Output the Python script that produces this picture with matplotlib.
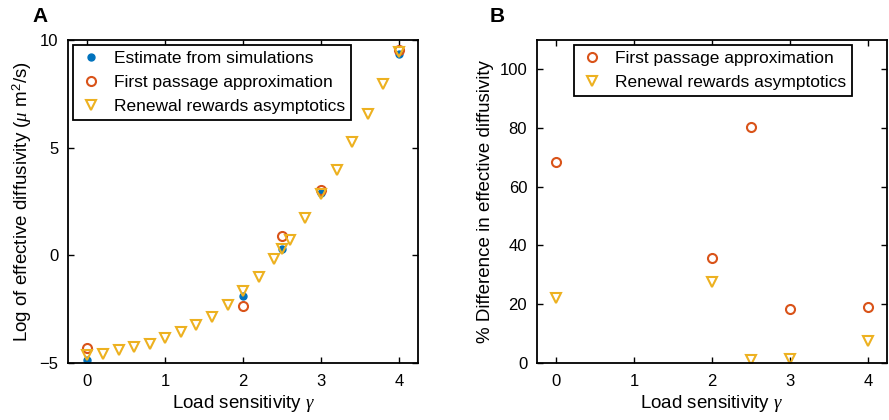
import numpy as np
import matplotlib
matplotlib.use("Agg")
import matplotlib.pyplot as plt

plt.rcParams['font.family'] = ['Liberation Sans', 'DejaVu Sans']
plt.rcParams['mathtext.fontset'] = 'custom'
plt.rcParams['mathtext.rm'] = 'Liberation Sans'
plt.rcParams['mathtext.it'] = 'Liberation Serif:italic'

# MATLAB default colours
BLUE = '#0072BD'
RED = '#D95319'
YELLOW = '#EDB120'

# ---- panel A data (log of effective diffusivity) ----
gamma_sim = [0, 2, 2.5, 3, 4]
sim_est = [-4.85, -1.9, 0.3, 2.9, 9.35]
fpt_est = [-4.3, -2.35, 0.9, 3.05, 9.55]

gamma_rr = [0, 0.2, 0.4, 0.6, 0.8, 1.0, 1.2, 1.4, 1.6, 1.8, 2.0, 2.2, 2.4,
            2.5, 2.6, 2.8, 3.0, 3.2, 3.4, 3.6, 3.8, 4.0]
rr_est = [-4.62, -4.6, -4.39, -4.24, -4.1, -3.86, -3.55, -3.26, -2.86, -2.32,
          -1.67, -1.0, -0.17, 0.29, 0.71, 1.71, 2.83, 3.96, 5.24, 6.54, 7.96, 9.43]

# ---- panel B data (% difference) ----
gamma_pct = [0, 2, 2.5, 3, 4]
fpt_pct = [68.3, 35.6, 80.3, 18.3, 18.9]
rr_pct = [22.1, 27.5, 1.0, 1.4, 7.5]

fig = plt.figure(figsize=(8.89, 4.2), dpi=100)
axA = fig.add_axes([0.0765, 0.136, 0.394, 0.769])
axB = fig.add_axes([0.604, 0.136, 0.394, 0.769])

LAB = 13.5
leg_kw = dict(fontsize=12.5, fancybox=False, framealpha=1, edgecolor='black',
              borderaxespad=0.3, handletextpad=0.6, borderpad=0.35,
              labelspacing=0.5, handlelength=1.4)


def style(ax):
    for s in ax.spines.values():
        s.set_linewidth(1.3)
    ax.tick_params(direction='in', top=True, right=True, labelsize=12,
                   length=4, width=1.0)
    ax.tick_params(axis='x', pad=8)
    ax.tick_params(axis='y', pad=7)


axA.plot(gamma_sim, sim_est, 'o', color=BLUE, ms=5, label='Estimate from simulations')
axA.plot(gamma_sim, fpt_est, 'o', mfc='none', mec=RED, mew=1.5, ms=6.5,
         label='First passage approximation')
axA.plot(gamma_rr, rr_est, 'v', mfc='none', mec=YELLOW, mew=1.5, ms=7.5,
         label='Renewal rewards asymptotics')
axA.set_xlim(-0.25, 4.25)
axA.set_ylim(-5, 10)
axA.set_xticks([0, 1, 2, 3, 4])
axA.set_yticks([-5, 0, 5, 10])
axA.set_xlabel(r'Load sensitivity $\gamma$', fontsize=LAB, labelpad=3)
axA.set_ylabel(r'Log of effective diffusivity ($\mu$ m$^2$/s)', fontsize=LAB)
style(axA)
legA = axA.legend(loc='upper left', **leg_kw)
legA.get_frame().set_linewidth(1.3)

axB.plot(gamma_pct, fpt_pct, 'o', mfc='none', mec=RED, mew=1.5, ms=6.5,
         label='First passage approximation')
axB.plot(gamma_pct, rr_pct, 'v', mfc='none', mec=YELLOW, mew=1.5, ms=7.5,
         label='Renewal rewards asymptotics')
axB.set_xlim(-0.25, 4.25)
axB.set_ylim(0, 110)
axB.set_xticks([0, 1, 2, 3, 4])
axB.set_yticks([0, 20, 40, 60, 80, 100])
axB.set_xlabel(r'Load sensitivity $\gamma$', fontsize=LAB, labelpad=3)
axB.set_ylabel('% Difference in effective diffusivity', fontsize=LAB)
style(axB)
legB = axB.legend(loc='upper center', bbox_to_anchor=(0.503, 1.0), **leg_kw)
legB.get_frame().set_linewidth(1.3)

fig.text(0.045, 0.96, 'A', fontsize=15, fontweight='bold', va='center', ha='center')
fig.text(0.559, 0.96, 'B', fontsize=15, fontweight='bold', va='center', ha='center')

fig.savefig('out.png', dpi=100)
